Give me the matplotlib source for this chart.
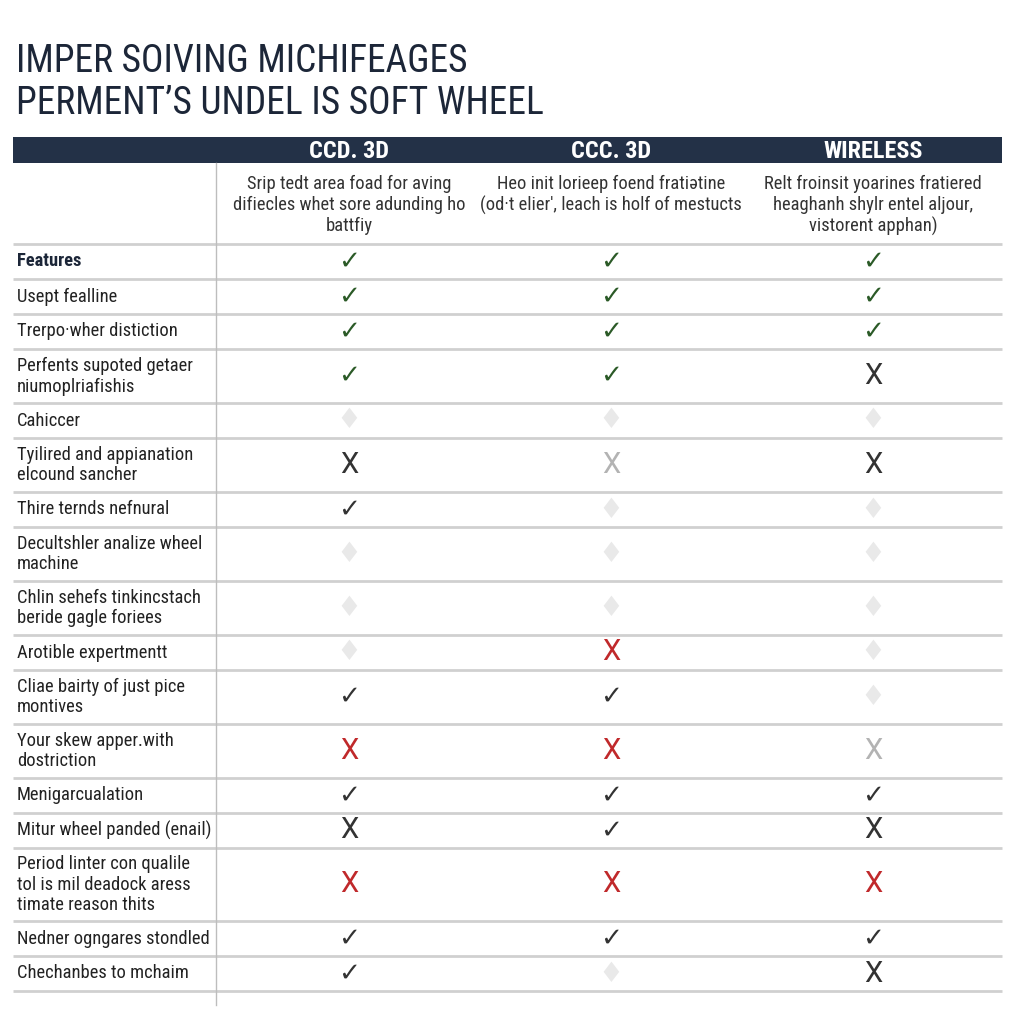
import matplotlib
matplotlib.use("Agg")
import matplotlib.pyplot as plt
from matplotlib import font_manager

# title lines
title_lines = ["IMPER SOIVING MICHIFEAGES", "PERMENT\u2019S UNDEL IS SOFT WHEEL"]

# column headings and the description text under each
col_headers = ["CCD. 3D", "CCC. 3D", "WIRELESS"]
col_descs = [
    "Srip tedt area foad for aving\ndifiecles whet sore adunding ho\nbattfiy",
    "Heo init lorieep foend fratiətine\n(od\u00b7t elier', leach is holf of mestucts",
    "Relt froinsit yoarines fratiered\nheaghanh shylr entel aljour,\nvistorent apphan)",
]

# row labels
row_labels = [
    "Features",
    "Usept fealline",
    "Trerpo\u00b7wher distiction",
    "Perfents supoted getaer\nniumoplriafishis",
    "Cahiccer",
    "Tyilired and appianation\nelcound sancher",
    "Thire ternds nefnural",
    "Decultshler analize wheel\nmachine",
    "Chlin sehefs tinkincstach\nberide gagle foriees",
    "Arotible expertmentt",
    "Cliae bairty of just pice\nmontives",
    "Your skew apper.with\ndostriction",
    "Menigarcualation",
    "Mitur wheel panded (enail)",
    "Period linter con qualile\ntol is mil deadock aress\ntimate reason thits",
    "Nedner ogngares stondled",
    "Chechanbes to mchaim",
]

# cell marks per column: g = green check, c = check, x = cross,
# lx = light cross, rx = red cross, f = faint blank
marks_col1 = ["g", "g", "g", "g", "f", "x", "c", "f", "f", "f", "c", "rx", "c", "x", "rx", "c", "c"]
marks_col2 = ["g", "g", "g", "g", "f", "lx", "f", "f", "f", "rx", "c", "rx", "c", "c", "rx", "c", "f"]
marks_col3 = ["g", "g", "g", "x", "f", "x", "f", "f", "f", "f", "f", "lx", "c", "x", "rx", "c", "x"]


def pick_font(names):
    for n in names:
        try:
            font_manager.findfont(font_manager.FontProperties(family=n),
                                  fallback_to_default=False)
            return n
        except ValueError:
            continue
    return "DejaVu Sans"


NARROW = [pick_font(["Roboto Condensed", "Liberation Sans Narrow", "Arial Narrow",
                     "Noto Sans Condensed", "Roboto", "Liberation Sans"]), "DejaVu Sans"]
PLAIN = [pick_font(["Roboto", "Liberation Sans"]), "DejaVu Sans"]
NAVY = "#1c2638"

mark_style = {
    "g": ("\u2713", "#2b5a27", 19, ["DejaVu Sans"], "normal"),
    "c": ("\u2713", "#333333", 19, ["DejaVu Sans"], "normal"),
    "x": ("X", "#333333", 21, PLAIN, "normal"),
    "lx": ("X", "#b3b3b3", 21, PLAIN, "normal"),
    "rx": ("X", "#c0292b", 21, PLAIN, "normal"),
    "f": ("\u2666", "#e9e9e9", 20, ["DejaVu Sans"], "normal"),
}

fig = plt.figure(figsize=(10.24, 10.24), dpi=100)
ax = fig.add_axes([0, 0, 1, 1])
ax.set_xlim(0, 1024)
ax.set_ylim(1024, 0)
ax.axis("off")

left, right = 13, 1002
col_x = [349, 611, 873]
sep_x = 216

# title
for i, line in enumerate(title_lines):
    ax.text(16, 61 + i * 42, line, fontsize=27, color=NAVY, family=NARROW,
            va="center", ha="left")

# header bar
ax.add_patch(plt.Rectangle((left, 137), right - left, 26, color="#233147", lw=0))
for x, h in zip(col_x, col_headers):
    ax.text(x, 151, h, fontsize=17.5, color="white", fontweight="bold",
            family=NARROW, ha="center", va="center")

# description row
for x, d in zip(col_x, col_descs):
    ax.text(x, 175, d, fontsize=13.3, color="#333333", family=NARROW,
            ha="center", va="top", linespacing=1.2)

# body rows: height grows with number of label lines
y = 244
ax.plot([left, right], [y, y], color="#d0d0d0", lw=2, solid_capstyle="butt")
rows = list(zip(row_labels, marks_col1, marks_col2, marks_col3))
for label, m1, m2, m3 in rows:
    nlines = label.count("\n") + 1
    h = 35 + 19 * (nlines - 1)
    cy = y + h / 2
    bold = label == "Features"
    ax.text(17, cy, label, fontsize=13.3, color=NAVY if bold else "#222222",
            fontweight="bold" if bold else "normal", family=NARROW,
            ha="left", va="center", linespacing=1.2)
    for x, m in zip(col_x, (m1, m2, m3)):
        glyph, color, size, fam, wt = mark_style[m]
        ax.text(x, cy, glyph, fontsize=size, color=color, family=fam,
                fontweight=wt, ha="center", va="center")
    y += h
    ax.plot([left, right], [y, y], color="#d0d0d0", lw=2, solid_capstyle="butt")

ax.plot([sep_x, sep_x], [163, 1005], color="#bdbdbd", lw=1)

fig.savefig("out.png", dpi=100, facecolor="white")
